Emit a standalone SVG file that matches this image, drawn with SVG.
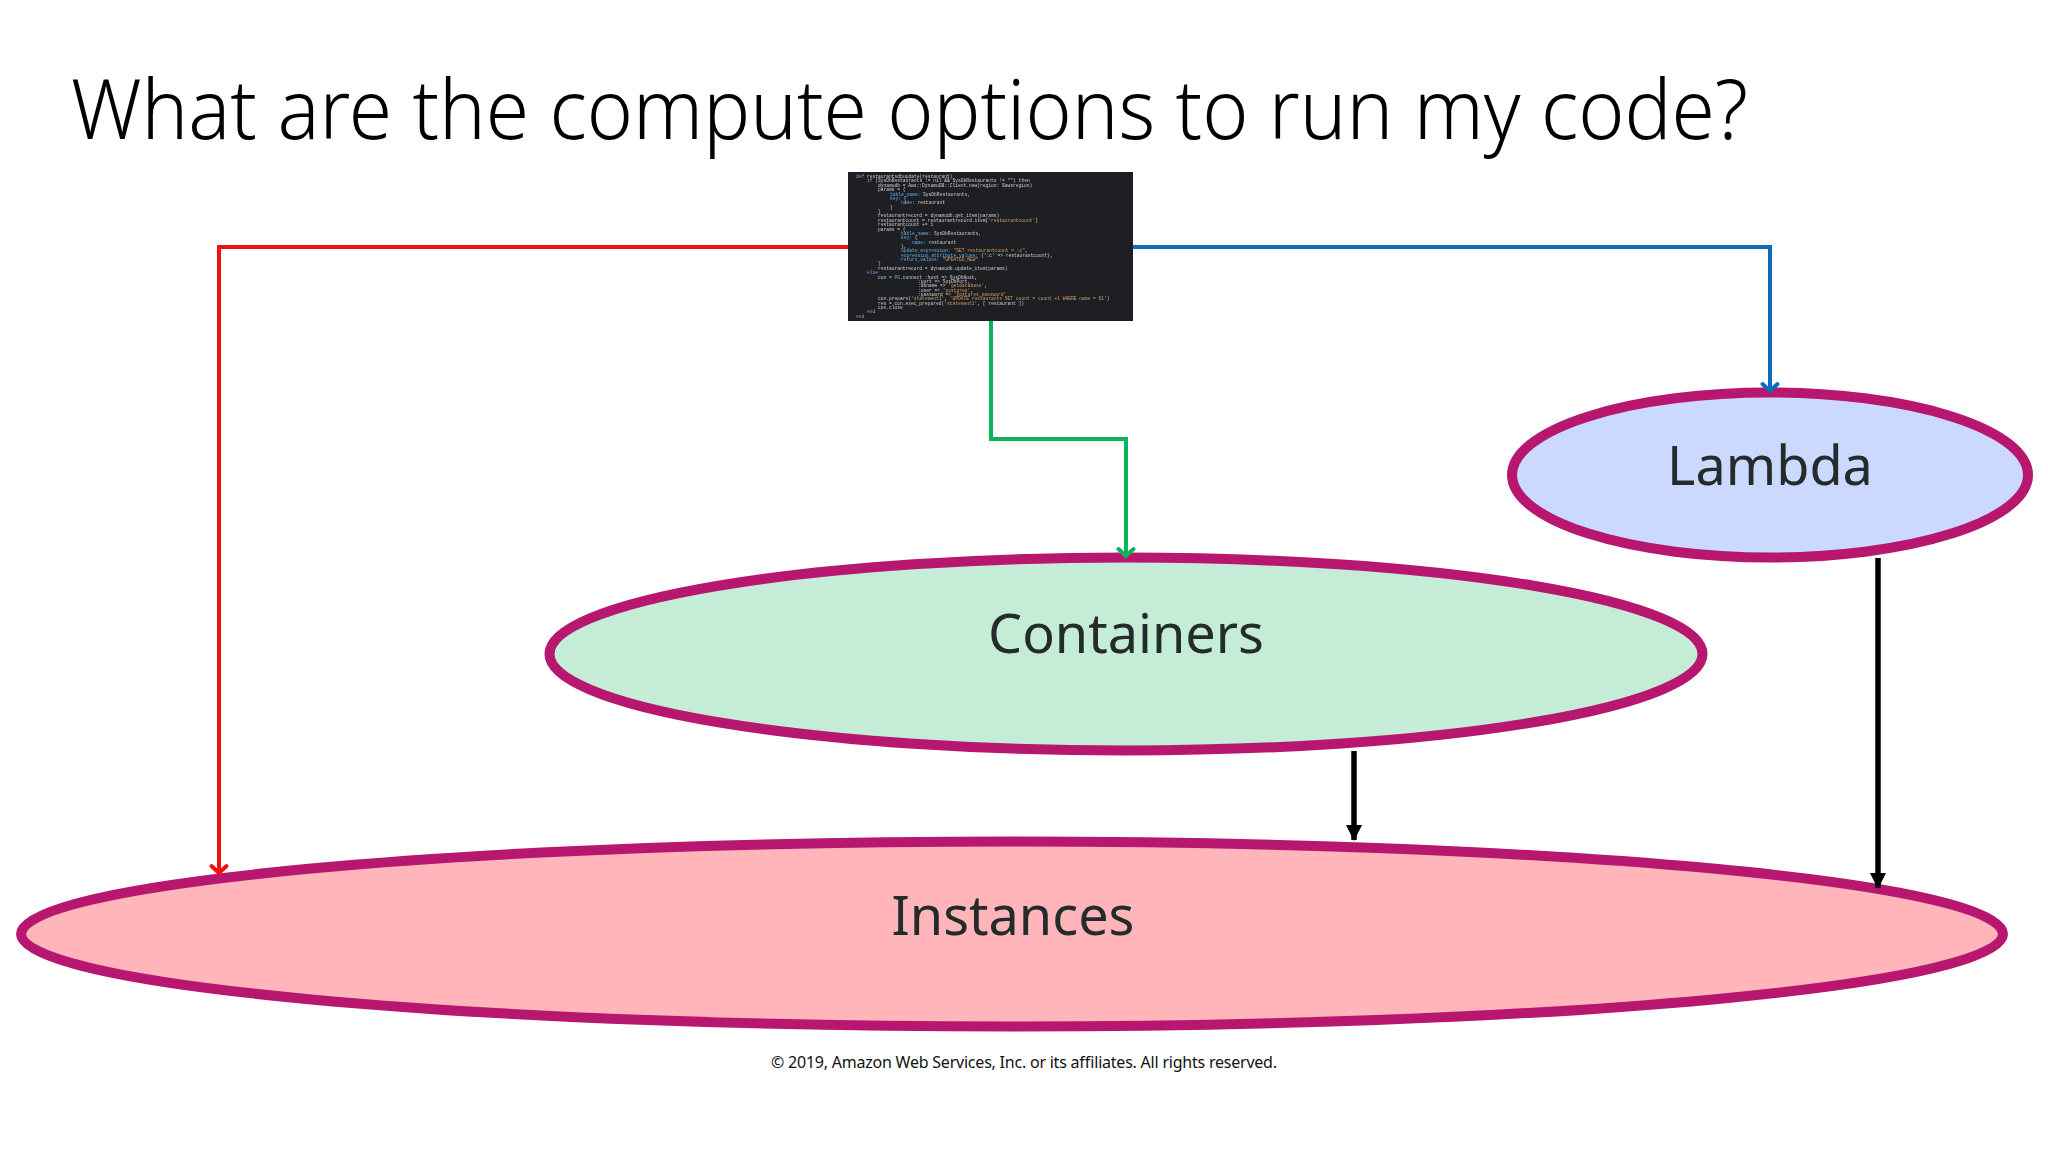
<svg xmlns="http://www.w3.org/2000/svg" width="2048" height="1152" viewBox="0 0 2048 1152">
<style>
.oval{stroke:#B8176F;stroke-width:10}
.lbl{font-family:"Noto Sans","Liberation Sans",sans-serif;font-size:54px;fill:#232B2B;text-anchor:middle}
.title{font-family:"Noto Sans","Liberation Sans",sans-serif;font-weight:300;font-size:83px;fill:#000}
.foot{font-family:"Noto Sans","Liberation Sans",sans-serif;font-size:16px;fill:#111}
.conn{fill:none;stroke-width:4;stroke-linejoin:miter}
.blk{fill:none;stroke:#000;stroke-width:5.5}
.code{font-family:"Liberation Mono",monospace;font-size:4.6px;fill:#C9CDD0}
.k{fill:#C678DD}.s{fill:#D19A66}.b{fill:#61AFEF}.t{fill:#56B6C2}
</style>
<defs>
<marker id="openR" markerUnits="userSpaceOnUse" markerWidth="24" markerHeight="16" refX="12" refY="13" orient="0" viewBox="0 0 24 16" overflow="visible"><path d="M4.5 6L12 13L19.5 6" fill="none" stroke="context-stroke" stroke-width="4" stroke-linecap="round"/></marker>
<marker id="head" markerUnits="userSpaceOnUse" markerWidth="16" markerHeight="16" refX="8" refY="15" orient="0" viewBox="0 0 16 16"><path d="M0 0H16L8 16Z" fill="#000"/></marker>
<filter id="soft" x="0" y="0" width="1" height="1"><feGaussianBlur stdDeviation="0.45"/></filter>
</defs>
<rect width="2048" height="1152" fill="#fff"/>
<text class="title" x="71" y="139" textLength="1677" lengthAdjust="spacingAndGlyphs">What are the compute options to run my code?</text>

<g id="node-instances"><ellipse class="oval" cx="1012" cy="934" rx="991" ry="92.5" fill="#FFB5B9"/><text class="lbl" x="1013" y="935">Instances</text></g>
<g id="node-containers"><ellipse class="oval" cx="1126" cy="654" rx="576.5" ry="96.5" fill="#C5ECD7"/><text class="lbl" x="1126" y="653">Containers</text></g>
<g id="node-lambda"><ellipse class="oval" cx="1770" cy="475" rx="258" ry="82.5" fill="#CCD9FF"/><text class="lbl" x="1770" y="485">Lambda</text></g>

<g id="connectors">
<path class="conn" stroke="#EE1111" marker-end="url(#openR)" d="M848 247H219V873"/>
<path class="conn" stroke="#0F6CBD" marker-end="url(#openR)" d="M1133 247H1770V391"/>
<path class="conn" stroke="#0DB35A" marker-end="url(#openR)" d="M991 321V439H1126V556"/>
<path class="blk" marker-end="url(#head)" d="M1354 751V840"/>
<path class="blk" marker-end="url(#head)" d="M1878 558V888"/>
</g>

<g id="node-code">
<rect x="848" y="172" width="285" height="149" fill="#1E1F22"/>
<g filter="url(#soft)" class="code">
<text x="856" y="178"><tspan class="k">def</tspan> restaurantsdbupdate(restaurant)</text>
<text x="867" y="182.4"><tspan class="k">if</tspan> (SysDbRestaurants != nil &amp;&amp; SysDbRestaurants != "") then</text>
<text x="878" y="186.8">dynamodb = Aws::DynamoDB::Client.new(region: $awsregion)</text>
<text x="878" y="191.1">params = {</text>
<text x="890" y="195.5"><tspan class="b">table_name:</tspan> SysDbRestaurants,</text>
<text x="890" y="199.9"><tspan class="b">key:</tspan> {</text>
<text x="901" y="204.2"><tspan class="b">name:</tspan> restaurant</text>
<text x="890" y="208.6">}</text>
<text x="878" y="213">}</text>
<text x="878" y="217.4">restaurantrecord = dynamodb.get_item(params)</text>
<text x="878" y="221.7">restaurantcount = restaurantrecord.item[<tspan class="s">'restaurantcount'</tspan>]</text>
<text x="878" y="226.1">restaurantcount += 1</text>
<text x="878" y="230.5">params = {</text>
<text x="901" y="234.8"><tspan class="b">table_name:</tspan> SysDbRestaurants,</text>
<text x="901" y="239.2"><tspan class="b">key:</tspan> {</text>
<text x="912" y="243.6"><tspan class="b">name:</tspan> restaurant</text>
<text x="901" y="247.9">},</text>
<text x="901" y="252.3"><tspan class="b">update_expression:</tspan> <tspan class="s">"SET restaurantcount = :c"</tspan>,</text>
<text x="901" y="256.7"><tspan class="b">expression_attribute_values:</tspan> {':c' =&gt; restaurantcount},</text>
<text x="901" y="261"><tspan class="b">return_values:</tspan> <tspan class="s">"UPDATED_NEW"</tspan></text>
<text x="878" y="265.4">}</text>
<text x="878" y="269.8">restaurantrecord = dynamodb.update_item(params)</text>
<text x="867" y="274.1"><tspan class="k">else</tspan></text>
<text x="878" y="278.5">con = <tspan class="t">PG</tspan>.connect :host =&gt; SysDbHost,</text>
<text x="918" y="282.9">:port =&gt; SysDbPort,</text>
<text x="918" y="287.2">:dbname =&gt; <tspan class="s">'getdatabase'</tspan>,</text>
<text x="918" y="291.6">:user =&gt; <tspan class="s">'postgres'</tspan>,</text>
<text x="918" y="296">:password =&gt; <tspan class="s">'postgres_password'</tspan></text>
<text x="878" y="300.3">con.prepare(<tspan class="s">'statement1'</tspan>, <tspan class="s">'UPDATE restaurants SET count = count +1 WHERE name = $1'</tspan>)</text>
<text x="878" y="304.7">res = con.exec_prepared(<tspan class="s">'statement1'</tspan>, [ restaurant ])</text>
<text x="878" y="309.1">con.close</text>
<text x="867" y="313.4"><tspan class="k">end</tspan></text>
<text x="856" y="317.8"><tspan class="k">end</tspan></text>
</g>
</g>

<text class="foot" x="771" y="1068" textLength="506">© 2019, Amazon Web Services, Inc. or its affiliates. All rights reserved.</text>
</svg>
